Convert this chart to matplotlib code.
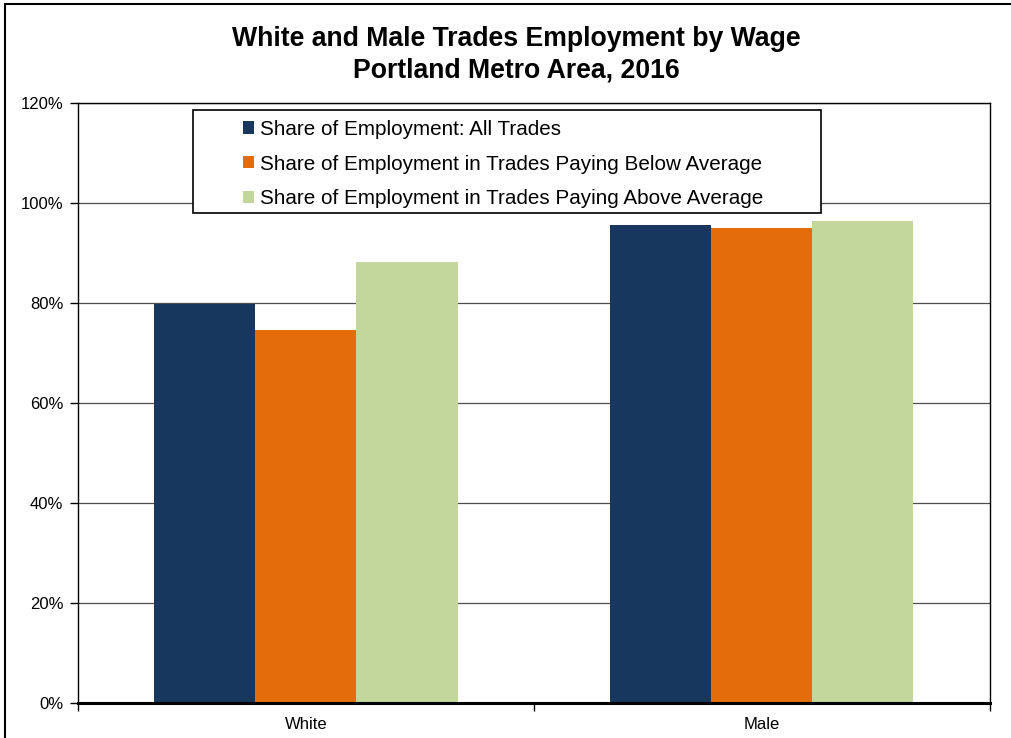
import matplotlib
matplotlib.use("Agg")
import matplotlib.pyplot as plt
from matplotlib.patches import Rectangle, Patch
from matplotlib.ticker import PercentFormatter, FixedLocator
import numpy as np

plt.rcParams["font.family"] = ["Liberation Sans", "DejaVu Sans"]

categories = ["White", "Male"]
series_names = [
    "Share of Employment: All Trades",
    "Share of Employment in Trades Paying Below Average",
    "Share of Employment in Trades Paying Above Average",
]
all_trades = [0.799, 0.956]
below_avg = [0.747, 0.951]
above_avg = [0.883, 0.965]
colors = ["#17375E", "#E46C0A", "#C3D69B"]

W, H = 1011, 738
fig = plt.figure(figsize=(W / 100, H / 100), dpi=100)

# chart-area border (runs off the right and bottom edges)
fig.patches.append(Rectangle((5 / W, -0.05), 1.1, 1 - 4 / H + 0.05,
                             transform=fig.transFigure, fill=False,
                             edgecolor="black", lw=1.5))

ax = fig.add_axes([78 / W, 1 - 703 / H, 911.5 / W, 600 / H])

x = np.arange(len(categories))
bw = 0.222
for i, (vals, c) in enumerate(zip([all_trades, below_avg, above_avg], colors)):
    ax.bar(x + (i - 1) * bw, vals, width=bw, color=c, zorder=3, linewidth=0)

ax.set_xlim(-0.5, 1.5)
ax.set_ylim(0, 1.2)
ax.yaxis.set_major_locator(FixedLocator(np.arange(0, 1.21, 0.2)))
ax.yaxis.set_major_formatter(PercentFormatter(1.0, decimals=0))
ax.grid(axis="y", color="#4d4d4d", lw=0.9, zorder=0)

ax.set_xticks([-0.5, 0.5, 1.5])
ax.set_xticklabels([])
ax.set_xticks(x, minor=True)
ax.set_xticklabels(categories, minor=True)
ax.tick_params(axis="x", which="major", direction="out", length=6, width=1)
ax.tick_params(axis="x", which="minor", length=0, pad=10, labelsize=12)
ax.tick_params(axis="y", direction="out", length=5.5, width=1, labelsize=12, pad=5)

for side in ["left", "top", "right"]:
    ax.spines[side].set_linewidth(1)
    ax.spines[side].set_color("black")
ax.spines["bottom"].set_linewidth(2.2)
ax.spines["bottom"].set_zorder(5)

fig.text(516.5 / W, 1 - 54.5 / H,
         "White and Male Trades Employment by Wage\nPortland Metro Area, 2016",
         ha="center", va="center", fontsize=19.2, fontweight="bold",
         linespacing=1.3)

# legend box drawn separately so its size can be fixed
lx0, ly0, lx1, ly1 = 193, 110, 821, 213
fig.patches.append(Rectangle((lx0 / W, 1 - ly1 / H), (lx1 - lx0) / W,
                             (ly1 - ly0) / H, transform=fig.transFigure,
                             facecolor="white", edgecolor="black", lw=1.2,
                             zorder=10))
handles = [Patch(facecolor=c, edgecolor="none") for c in colors]
leg = fig.legend(handles, series_names, loc="center",
                 bbox_to_anchor=((lx0 - 4) / W, 1 - (ly1 + 2.5) / H, (lx1 - lx0) / W, (ly1 - ly0) / H),
                 frameon=False, fontsize=14.9, handlelength=0.54,
                 handleheight=0.54, handletextpad=0.3, labelspacing=0.76,
                 borderpad=0)
leg.set_zorder(11)

fig.savefig("out.png", dpi=100)
